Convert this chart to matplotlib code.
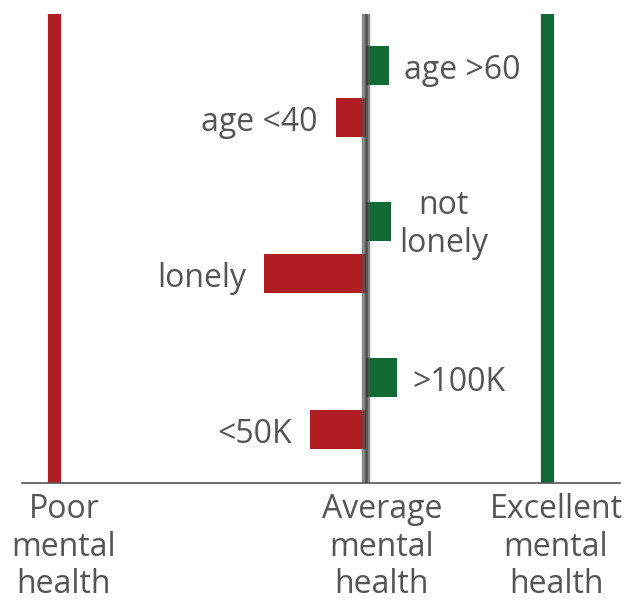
import matplotlib.pyplot as plt
import matplotlib.transforms as mtransforms

plt.rcParams['font.family'] = ['Open Sans', 'DejaVu Sans']

# difference from average mental health score
labels = ['age >60', 'age <40', 'not\nlonely', 'lonely', '>100K', '<50K']
values = [2.3, -3.0, 2.5, -10.2, 3.1, -5.6]
groups = [0, 0, 1, 1, 2, 2]
subs = [0, 1, 0, 1, 0, 1]

scale_labels = ['Poor\nmental\nhealth', 'Average\nmental\nhealth', 'Excellent\nmental\nhealth']
scale_pos = [-31.2, 0, 18.1]

red = '#b01e23'
green = '#116934'
grey = '#555555'

fig = plt.figure(figsize=(6.33, 6.01), dpi=100)
ax = fig.add_axes([22 / 633, 1 - 483 / 601, 598 / 633, 469 / 601])

ypos = [g * 3 + s for g, s in zip(groups, subs)]
colors = [green if v > 0 else red for v in values]
ax.barh(ypos, values, height=0.75, color=colors, zorder=2)

# endpoint markers
ax.axvline(scale_pos[0], color=red, lw=9.5, zorder=1)
ax.axvline(scale_pos[2], color=green, lw=9.5, zorder=1)
ax.axvline(0, color='#555555', lw=6, alpha=0.7, zorder=3)
ax.axvline(0, color='#333333', lw=2, alpha=0.6, zorder=3)

for y, v, lab in zip(ypos, values, labels):
    if '\n' in lab:
        ax.annotate(lab, (v, y), xytext=(38, -2.5), textcoords='offset points',
                    ha='center', va='center', fontsize=23, color=grey,
                    linespacing=1.2)
    elif v > 0:
        ax.annotate(lab, (v, y), xytext=(11, -1), textcoords='offset points',
                    ha='left', va='center_baseline', fontsize=23, color=grey)
    else:
        ax.annotate(lab, (v, y), xytext=(-13, -1), textcoords='offset points',
                    ha='right', va='center_baseline', fontsize=23, color=grey)

ax.set_xlim(-34.4, 25.4)
ax.set_ylim(8.03, -0.99)
ax.set_yticks([])
ax.set_xticks(scale_pos)
ax.set_xticklabels(scale_labels, fontsize=23, color=grey, linespacing=1.17)
ax.tick_params(axis='x', length=0, pad=7.5)
shifts = [10, 16, 9]
for tl, dx in zip(ax.get_xticklabels(), shifts):
    tl.set_transform(tl.get_transform() + mtransforms.ScaledTranslation(dx / 100, 0, fig.dpi_scale_trans))

for side in ['top', 'right', 'left']:
    ax.spines[side].set_visible(False)
ax.spines['bottom'].set_color(grey)
ax.spines['bottom'].set_linewidth(1.2)

fig.savefig('out.png', dpi=100)
